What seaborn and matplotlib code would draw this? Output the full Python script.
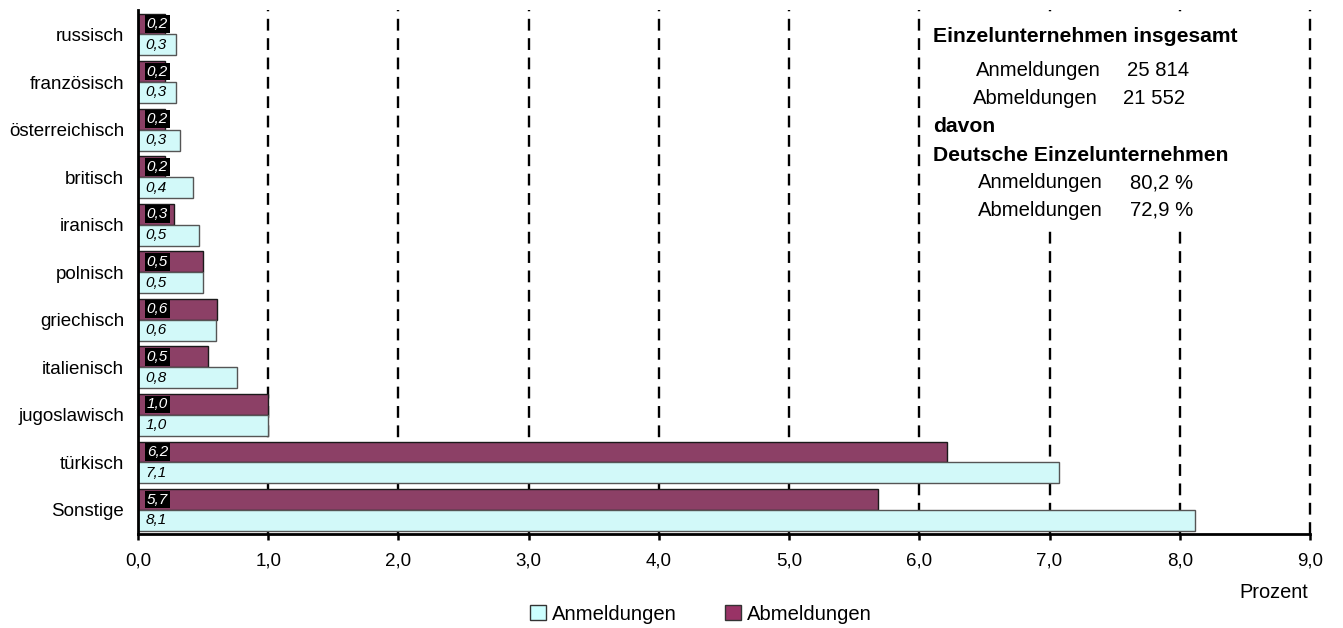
import pandas as pd
import matplotlib.pyplot as plt
import seaborn as sns
from matplotlib.patches import Patch, Rectangle
from matplotlib.ticker import FuncFormatter

# Daten (Anteil in Prozent)
staaten = ["russisch", "französisch", "österreichisch", "britisch", "iranisch",
           "polnisch", "griechisch", "italienisch", "jugoslawisch", "türkisch", "Sonstige"]
anmeldungen = [0.29, 0.29, 0.32, 0.42, 0.47, 0.50, 0.60, 0.76, 1.00, 7.07, 8.12]
abmeldungen = [0.21, 0.21, 0.21, 0.21, 0.28, 0.50, 0.61, 0.54, 1.00, 6.21, 5.68]
x_ticks = [0, 1, 2, 3, 4, 5, 6, 7, 8, 9]

cyan = "#CCFFFF"
lila = "#993366"

sns.set_style("white")
plt.rcParams["font.family"] = ["Liberation Sans", "DejaVu Sans"]
plt.rcParams["text.color"] = "black"
plt.rcParams["xtick.color"] = "black"
plt.rcParams["ytick.color"] = "black"
plt.rcParams["axes.labelcolor"] = "black"

df = pd.DataFrame({
    "Staat": staaten * 2,
    "Prozent": abmeldungen + anmeldungen,
    "Art": ["Abmeldungen"] * len(staaten) + ["Anmeldungen"] * len(staaten),
})

W, H = 1343, 628
fig = plt.figure(figsize=(W / 100, H / 100), dpi=100)


def px(x, y):
    return x / W, 1 - y / H


ax = fig.add_axes([138 / W, 1 - 534 / H, (1310 - 138) / W, (534 - 10) / H])

# gestrichelte Gitterlinien
for t in x_ticks[1:]:
    ax.axvline(t, color="black", lw=1.7, ls=(0, (5, 3.2)), zorder=0.5, clip_on=False)

sns.barplot(data=df, y="Staat", x="Prozent", hue="Art",
            hue_order=["Abmeldungen", "Anmeldungen"],
            palette={"Abmeldungen": lila, "Anmeldungen": cyan},
            orient="h", width=0.88, gap=0, legend=False, ax=ax, zorder=2)

for bar in ax.containers[0]:
    bar.set_edgecolor("#1a1a1a")
    bar.set_linewidth(1)
for bar in ax.containers[1]:
    bar.set_edgecolor("#555555")
    bar.set_linewidth(1)

# Wertelabels
for bar, v in zip(ax.containers[0], abmeldungen):
    yc = bar.get_y() + bar.get_height() / 2
    ax.annotate(f"{v:.1f}".replace(".", ","), xy=(0, yc), xytext=(6.3, 0),
                textcoords="offset points", ha="left", va="center",
                fontsize=11, style="italic", color="white", zorder=5,
                bbox=dict(boxstyle="square,pad=0.12", fc="black", ec="none"))
for bar, v in zip(ax.containers[1], anmeldungen):
    yc = bar.get_y() + bar.get_height() / 2
    ax.annotate(f"{v:.1f}".replace(".", ","), xy=(0, yc), xytext=(5.5, 0),
                textcoords="offset points", ha="left", va="center",
                fontsize=11, style="italic", color="black", zorder=5)

ax.set_xlim(0, 9)
ax.set_ylim(10.505, -0.515)
ax.set_xticks(x_ticks)
ax.xaxis.set_major_formatter(FuncFormatter(lambda v, p: f"{v:.1f}".replace(".", ",")))
ax.set_xlabel("")
ax.set_ylabel("")
ax.tick_params(axis="x", length=4.5, width=1.8, pad=9, labelsize=13.5, bottom=True,
               color="black", labelcolor="black")
ax.tick_params(axis="y", length=0, pad=10, labelsize=13.5, labelcolor="black")
sns.despine(ax=ax, top=True, right=True)
for s in ["left", "bottom"]:
    ax.spines[s].set_linewidth(2)
    ax.spines[s].set_color("black")
    ax.spines[s].set_zorder(4)

# weißer Kasten hinter der Textinfo
ax.add_patch(Rectangle(((925 - 138) / 1172, (534 - 226) / 524),
                       (1300 - 925) / 1172, (226 - 17) / 524,
                       transform=ax.transAxes, fc="white", ec="none", zorder=1))

bold_fs = 15.2
info_fs = 14.6
fig.text(*px(933, 37), "Einzelunternehmen insgesamt", fontsize=bold_fs, fontweight="bold", va="center")
fig.text(*px(976, 71), "Anmeldungen", fontsize=info_fs, va="center")
fig.text(*px(1127, 71), "25 814", fontsize=info_fs, va="center")
fig.text(*px(973, 99), "Abmeldungen", fontsize=info_fs, va="center")
fig.text(*px(1123, 99), "21 552", fontsize=info_fs, va="center")
fig.text(*px(933, 127), "davon", fontsize=bold_fs, fontweight="bold", va="center")
fig.text(*px(933, 156), "Deutsche Einzelunternehmen", fontsize=bold_fs, fontweight="bold", va="center")
fig.text(*px(978, 183), "Anmeldungen", fontsize=info_fs, va="center")
fig.text(*px(1130, 183), "80,2 %", fontsize=info_fs, va="center")
fig.text(*px(978, 210), "Abmeldungen", fontsize=info_fs, va="center")
fig.text(*px(1130, 210), "72,9 %", fontsize=info_fs, va="center")

fig.text(*px(1308, 593), "Prozent", fontsize=14.4, ha="right", va="center")

handles = [Patch(fc=cyan, ec="#333333", lw=1, label="Anmeldungen"),
           Patch(fc=lila, ec="#333333", lw=1, label="Abmeldungen")]
fig.legend(handles=handles, loc="center", bbox_to_anchor=px(701, 614), ncol=2,
           frameon=False, fontsize=14.6, handlelength=0.75, handleheight=0.75,
           handletextpad=0.3, columnspacing=2.4, borderaxespad=0)

fig.savefig("out.png", dpi=100)
plt.close(fig)
